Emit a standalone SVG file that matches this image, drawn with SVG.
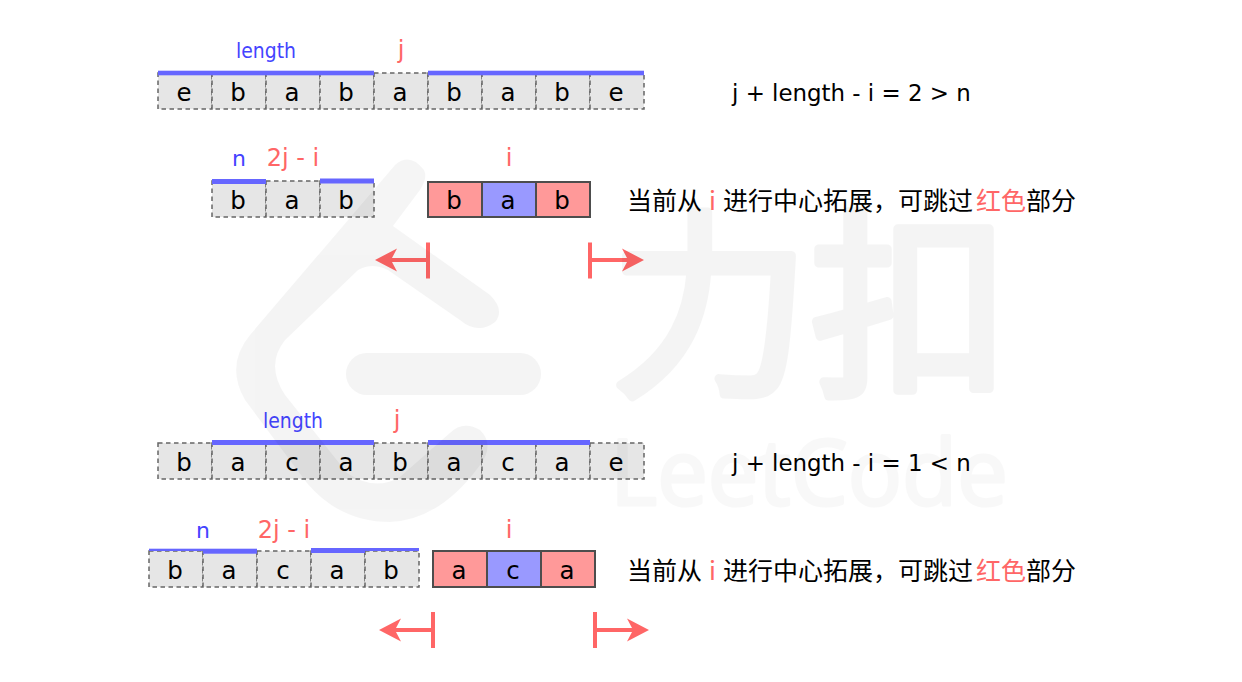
<svg xmlns="http://www.w3.org/2000/svg" width="1242" height="682" viewBox="0 0 1242 682">
<style>
.c{fill:#e6e6e6;stroke:#666;stroke-width:1.500;stroke-dasharray:4.500 3.500}
.s{stroke:#4d4d4d;stroke-width:2}
.r{fill:#f99}
.u{fill:#99f}
.bar{fill:#66f}
text{font-family:"DejaVu Sans","Noto Sans CJK SC",sans-serif}
.t{font-size:24.500px;fill:#000;text-anchor:middle}
.bl{font-size:22px;fill:#44f;text-anchor:middle}
.rd{font-size:24px;fill:#f66;text-anchor:middle}
.eq{font-size:22.900px;fill:#000}
.zh{font-size:25px;fill:#000;font-family:"Noto Sans CJK SC","DejaVu Sans",sans-serif}
.hl{fill:#f66}
.a{stroke:#f66;stroke-width:4;fill:none}
.h{fill:#f66}
.wm{opacity:.04}
.wt{stroke:#000;stroke-linejoin:round;stroke-linecap:round}
</style>
<defs>
<g id="cell"><rect class="c" width="54" height="36"/></g>
<path id="al" class="h" d="M0 0L22 -11.500L17 -2H22V2H17L22 11.500Z"/>
<path id="ar" class="h" d="M0 0L-22 -11.500L-17 -2H-22V2H-17L-22 11.500Z"/>
</defs>

<g id="row1">
<use href="#cell" x="158" y="73"/><use href="#cell" x="212" y="73"/><use href="#cell" x="266" y="73"/><use href="#cell" x="320" y="73"/><use href="#cell" x="374" y="73"/><use href="#cell" x="428" y="73"/><use href="#cell" x="482" y="73"/><use href="#cell" x="536" y="73"/><use href="#cell" x="590" y="73"/>
<rect class="bar" x="158" y="70.700" width="216" height="4.600"/><rect class="bar" x="428" y="70.700" width="216" height="4.600"/>
<text class="t" x="184" y="101">e</text><text class="t" x="238" y="101">b</text><text class="t" x="292" y="101">a</text><text class="t" x="346" y="101">b</text><text class="t" x="400" y="101">a</text><text class="t" x="454" y="101">b</text><text class="t" x="508" y="101">a</text><text class="t" x="562" y="101">b</text><text class="t" x="616" y="101">e</text>
<text class="bl" x="266" y="58" textLength="60" lengthAdjust="spacingAndGlyphs">length</text><text class="rd" x="401" y="58">j</text>
<text class="eq" x="732" y="101">j + length - i = 2 &gt; n</text>
</g>

<g id="row2">
<use href="#cell" x="212" y="181"/><use href="#cell" x="266" y="181"/><use href="#cell" x="320" y="181"/>
<rect class="bar" x="212" y="179" width="54" height="5"/><rect class="bar" x="320" y="178.500" width="54" height="5"/>
<text class="t" x="238" y="209">b</text><text class="t" x="292" y="209">a</text><text class="t" x="346" y="209">b</text>
<text class="bl" x="239" y="166">n</text><text class="rd" x="293" y="166">2j - i</text><text class="rd" x="509" y="166">i</text>
</g>
<g id="palin1">
<rect class="r s" x="428" y="182" width="54" height="35"/><rect class="u s" x="482" y="182" width="54" height="35"/><rect class="r s" x="536" y="182" width="54" height="35"/>
<text class="t" x="454" y="209">b</text><text class="t" x="508" y="209">a</text><text class="t" x="562" y="209">b</text>
</g>
<text class="zh" id="note1" y="210"><tspan x="627">当前从</tspan><tspan class="hl" x="709">i</tspan><tspan x="723">进行中心拓展，可跳过</tspan><tspan class="hl" x="976">红色</tspan><tspan x="1026">部分</tspan></text>

<g id="row3">
<use href="#cell" x="158" y="443"/><use href="#cell" x="212" y="443"/><use href="#cell" x="266" y="443"/><use href="#cell" x="320" y="443"/><use href="#cell" x="374" y="443"/><use href="#cell" x="428" y="443"/><use href="#cell" x="482" y="443"/><use href="#cell" x="536" y="443"/><use href="#cell" x="590" y="443"/>
<rect class="bar" x="212" y="440" width="162" height="5"/><rect class="bar" x="428" y="440" width="162" height="5"/>
<text class="t" x="184" y="471">b</text><text class="t" x="238" y="471">a</text><text class="t" x="292" y="471">c</text><text class="t" x="346" y="471">a</text><text class="t" x="400" y="471">b</text><text class="t" x="454" y="471">a</text><text class="t" x="508" y="471">c</text><text class="t" x="562" y="471">a</text><text class="t" x="616" y="471">e</text>
<text class="bl" x="293" y="428" textLength="60" lengthAdjust="spacingAndGlyphs">length</text><text class="rd" x="397" y="428">j</text>
<text class="eq" x="732" y="471">j + length - i = 1 &lt; n</text>
</g>

<g id="row4">
<use href="#cell" x="149" y="551"/><use href="#cell" x="203" y="551"/><use href="#cell" x="257" y="551"/><use href="#cell" x="311" y="551"/><use href="#cell" x="365" y="551"/>
<rect class="bar" x="149" y="548.700" width="54" height="2.300"/><rect class="bar" x="203" y="548.700" width="54" height="5"/><rect class="bar" x="311" y="548" width="54" height="5"/><rect class="bar" x="365" y="548" width="54" height="3"/>
<text class="t" x="175" y="579">b</text><text class="t" x="229" y="579">a</text><text class="t" x="283" y="579">c</text><text class="t" x="337" y="579">a</text><text class="t" x="391" y="579">b</text>
<text class="bl" x="203" y="538">n</text><text class="rd" x="284" y="538">2j - i</text><text class="rd" x="509" y="538">i</text>
</g>
<g id="palin2">
<rect class="r s" x="433" y="551" width="54" height="36"/><rect class="u s" x="487" y="551" width="54" height="36"/><rect class="r s" x="541" y="551" width="54" height="36"/>
<text class="t" x="459" y="579">a</text><text class="t" x="513" y="579">c</text><text class="t" x="567" y="579">a</text>
</g>
<text class="zh" id="note2" y="580"><tspan x="627">当前从</tspan><tspan class="hl" x="709">i</tspan><tspan x="723">进行中心拓展，可跳过</tspan><tspan class="hl" x="976">红色</tspan><tspan x="1026">部分</tspan></text>

<g id="connectors">
<path class="a" d="M428 242.500V278.500M428 260H390"/><use href="#al" x="375" y="260"/>
<path class="a" d="M590 242.500V278.500M590 260H628"/><use href="#ar" x="644" y="260"/>
<path class="a" d="M433 612V648M433 630H395"/><use href="#al" x="379" y="630"/>
<path class="a" d="M595 612V648M595 630H633"/><use href="#ar" x="649" y="630"/>
</g>

<g id="watermark" class="wm">
<path d="M395 165Q410 152 424 170Q428 178 420 190L393 226L490 295Q505 310 495 322Q478 335 460 320L388 270Q372 262 358 270L285 340Q265 365 285 395L347 473Q375 492 400 477L450 433Q463 420 480 430Q495 445 480 465Q440 520 390 522Q340 522 307 483L245 400Q225 365 250 335Z"/>
<rect x="346" y="353" width="195" height="42" rx="21"/>
<text class="wt" x="610" y="380" font-size="200" stroke-width="9" style="font-family:'Noto Sans CJK SC',sans-serif">力扣</text>
</g>
<text id="wordmark" class="wt" x="610" y="505" font-size="92" textLength="398" lengthAdjust="spacingAndGlyphs" stroke-width="3" opacity=".022" style="font-family:'Open Sans',sans-serif">LeetCode</text>
</svg>
